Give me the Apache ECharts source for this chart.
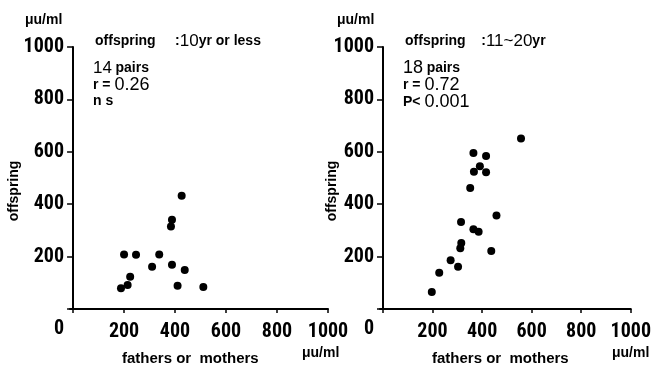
<!DOCTYPE html>
<html>
<head>
<meta charset="utf-8">
<script src="https://cdn.jsdelivr.net/npm/echarts@6/dist/echarts.min.js"></script>
<style>
  html, body { margin: 0; padding: 0; background: #fff; }
  #main { width: 654px; height: 365px; }
</style>
</head>
<body>
<div id="main"></div>
<script>
// offspring 10yr or less
const leftParent = [188, 214, 224, 200, 247, 310, 338, 388, 388, 384, 426, 438, 410, 511];
const leftOffspring = [79, 92, 123, 208, 207, 161, 208, 169, 341, 315, 432, 149, 89, 84];
// offspring 11~20yr
const rightParent = [197, 227, 273, 303, 312, 316, 315, 352, 365, 386, 437, 458, 365, 416, 391, 367, 416, 557];
const rightOffspring = [65, 138, 186, 161, 232, 252, 332, 462, 304, 295, 221, 357, 595, 584, 545, 524, 522, 651];

const tickValues = [0, 200, 400, 600, 800, 1000];
const labelValues = [200, 400, 600, 800, 1000];

const zip = (xs, ys) => xs.map((x, i) => [x, ys[i]]);

// narrow bold digits like the printed figure
const numFamily = "'Roboto Condensed', Roboto, sans-serif";
const numFont = {
  fontFamily: numFamily,
  fontWeight: "bold",
  fontSize: 20,
  color: "#000",
};
const textFont = "'Liberation Sans', Arial, sans-serif";

const makeX = (gridIndex) => ({
  gridIndex: gridIndex,
  type: "value",
  min: -12,
  max: 1000,
  splitLine: { show: false },
  axisLine: { lineStyle: { color: "#000", width: 2 } },
  axisTick: { show: true, length: 4, lineStyle: { color: "#000", width: 1.5 }, customValues: tickValues },
  axisLabel: Object.assign({
    margin: 13,
    customValues: labelValues,
    formatter: (v) => String(v),
  }, numFont),
});

const makeY = (gridIndex) => ({
  gridIndex: gridIndex,
  type: "value",
  min: 0,
  max: 1000,
  interval: 200,
  splitLine: { show: false },
  axisLine: { show: true, lineStyle: { color: "#000", width: 2 } },
  axisTick: { show: true, length: 6, lineStyle: { color: "#000", width: 1.5 } },
  axisLabel: Object.assign({
    margin: 6,
    formatter: (v) => (v === 0 ? "" : String(v)),
  }, numFont),
});

const txt = (x, y, rich, text, rotation) => ({
  type: "text",
  x: x,
  y: y,
  rotation: rotation || 0,
  style: {
    text: text,
    fill: "#000",
    verticalAlign: "middle",
    align: rotation ? "center" : "left",
    fontFamily: textFont,
    fontWeight: "bold",
    fontSize: 13,
    rich: rich,
  },
});

const rich = {
  b: { fontFamily: textFont, fontWeight: "bold", fontSize: 14, fill: "#000" },
  w: { fontFamily: textFont, fontWeight: "bold", fontSize: 15, fill: "#000" },
  n: { fontFamily: textFont, fontWeight: "normal", fontSize: 18, fill: "#000" },
  m: { fontFamily: textFont, fontWeight: "normal", fontSize: 17, fill: "#000" },
};

const zeroLabel = (x) => ({
  type: "text",
  x: x,
  y: 319,
  style: { text: "0", fill: "#000", font: "bold 20px " + numFamily },
});

const target_dom = document.getElementById("main");
const myChart = echarts.init(target_dom, null, { renderer: "canvas" });

const option = {
  backgroundColor: "#fff",
  animation: false,
  grid: [
    { left: 70, top: 47, width: 258, height: 262 },
    { left: 380, top: 47, width: 258, height: 262 },
  ],
  xAxis: [makeX(0), makeX(1)],
  yAxis: [makeY(0), makeY(1)],
  series: [
    {
      name: "10yr or less",
      type: "scatter",
      xAxisIndex: 0,
      yAxisIndex: 0,
      symbolSize: 8,
      itemStyle: { color: "#000", opacity: 1 },
      data: zip(leftParent, leftOffspring),
    },
    {
      name: "11~20yr",
      type: "scatter",
      xAxisIndex: 1,
      yAxisIndex: 1,
      symbolSize: 8,
      itemStyle: { color: "#000", opacity: 1 },
      data: zip(rightParent, rightOffspring),
    },
  ],
  graphic: [
    // units
    txt(25, 20, rich, "{b|μu/ml}"),
    txt(337, 20, rich, "{b|μu/ml}"),
    txt(302, 353, rich, "{b|μu/ml}"),
    txt(612, 353, rich, "{b|μu/ml}"),
    // origin labels
    zeroLabel(54),
    zeroLabel(364),
    // axis names
    txt(14, 191, rich, "{b|offspring}", Math.PI / 2),
    txt(332, 191, rich, "{b|offspring}", Math.PI / 2),
    txt(122, 359, rich, "{w|fathers or  mothers}"),
    txt(432, 359, rich, "{w|fathers or  mothers}"),
    // left panel notes
    txt(95, 41, rich, "{b|offspring     :}{m|10}{b|yr or less}"),
    txt(93, 68, rich, "{m|14} {b|pairs}"),
    txt(93, 85, rich, "{b|r = }{n|0.26}"),
    txt(93, 101, rich, "{b|n s}"),
    // right panel notes
    txt(405, 41, rich, "{b|offspring    :}{m|11~20}{b|yr}"),
    txt(403, 68, rich, "{n|18} {b|pairs}"),
    txt(403, 85, rich, "{b|r = }{n|0.72}"),
    txt(403, 102, rich, "{b|P< }{n|0.001}"),
  ],
};

myChart.setOption(option);
</script>
</body>
</html>
